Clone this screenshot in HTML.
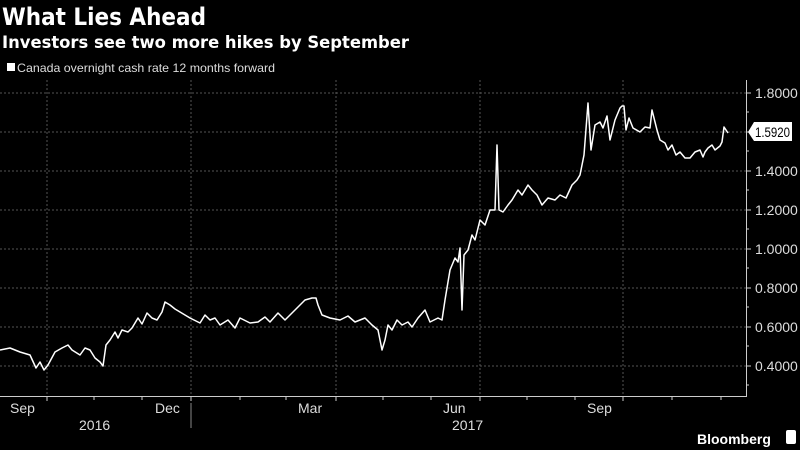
<!DOCTYPE html>
<html><head><meta charset="utf-8"><style>
body{margin:0;background:#000;width:800px;height:450px;overflow:hidden;font-family:"Liberation Sans","DejaVu Sans",sans-serif;color:#fff}
</style></head><body>
<svg width="800" height="450" xmlns="http://www.w3.org/2000/svg" style="position:absolute;left:0;top:0">
<text x="2" y="25" font-size="24" font-weight="bold" fill="#fff" font-family="DejaVu Sans, sans-serif" textLength="204" lengthAdjust="spacingAndGlyphs">What Lies Ahead</text>
<text x="2" y="48" font-size="17" font-weight="bold" fill="#fff" font-family="DejaVu Sans, sans-serif" textLength="407" lengthAdjust="spacingAndGlyphs">Investors see two more hikes by September</text>
<rect x="7" y="63" width="8" height="8" fill="#fff"/>
<text x="17" y="72" font-size="12" fill="#ddd" textLength="258" lengthAdjust="spacingAndGlyphs">Canada overnight cash rate 12 months forward</text>
<g stroke="#555" stroke-width="1" stroke-dasharray="2,2">
<line x1="0" y1="93" x2="746" y2="93"/><line x1="0" y1="132" x2="746" y2="132"/><line x1="0" y1="171" x2="746" y2="171"/><line x1="0" y1="210" x2="746" y2="210"/><line x1="0" y1="249" x2="746" y2="249"/><line x1="0" y1="288" x2="746" y2="288"/><line x1="0" y1="327" x2="746" y2="327"/><line x1="0" y1="366" x2="746" y2="366"/>
<line x1="47" y1="80" x2="47" y2="396"/><line x1="191" y1="80" x2="191" y2="396"/><line x1="336" y1="80" x2="336" y2="396"/><line x1="480" y1="80" x2="480" y2="396"/><line x1="623" y1="80" x2="623" y2="396"/>
</g>
<g stroke="#ccc" stroke-width="1">
<line x1="0" y1="396.5" x2="746" y2="396.5"/><line x1="746.5" y1="80" x2="746.5" y2="397"/>
<line x1="47" y1="396" x2="47" y2="401"/><line x1="94" y1="396" x2="94" y2="400"/><line x1="142" y1="396" x2="142" y2="400"/><line x1="191" y1="396" x2="191" y2="401"/><line x1="240" y1="396" x2="240" y2="400"/><line x1="286" y1="396" x2="286" y2="400"/><line x1="336" y1="396" x2="336" y2="401"/><line x1="383" y1="396" x2="383" y2="400"/><line x1="431" y1="396" x2="431" y2="400"/><line x1="480" y1="396" x2="480" y2="401"/><line x1="527" y1="396" x2="527" y2="400"/><line x1="575" y1="396" x2="575" y2="400"/><line x1="623" y1="396" x2="623" y2="401"/><line x1="672" y1="396" x2="672" y2="400"/><line x1="721" y1="396" x2="721" y2="400"/>
<line x1="746" y1="93" x2="751" y2="93"/><line x1="746" y1="132" x2="751" y2="132"/><line x1="746" y1="171" x2="751" y2="171"/><line x1="746" y1="210" x2="751" y2="210"/><line x1="746" y1="249" x2="751" y2="249"/><line x1="746" y1="288" x2="751" y2="288"/><line x1="746" y1="327" x2="751" y2="327"/><line x1="746" y1="366" x2="751" y2="366"/>
<line x1="746" y1="112" x2="749" y2="112"/><line x1="746" y1="151" x2="749" y2="151"/><line x1="746" y1="190" x2="749" y2="190"/><line x1="746" y1="229" x2="749" y2="229"/><line x1="746" y1="268" x2="749" y2="268"/><line x1="746" y1="307" x2="749" y2="307"/><line x1="746" y1="346" x2="749" y2="346"/><line x1="746" y1="385" x2="749" y2="385"/>
<line x1="191" y1="403" x2="191" y2="428" stroke="#888"/>
</g>
<g font-size="14" fill="#ddd">
<text x="755" y="98">1.8000</text><text x="755" y="176">1.4000</text><text x="755" y="215">1.2000</text><text x="755" y="254">1.0000</text><text x="755" y="293">0.8000</text><text x="755" y="332">0.6000</text><text x="755" y="371">0.4000</text>
<text x="10" y="413">Sep</text><text x="155" y="413">Dec</text><text x="298" y="413">Mar</text><text x="443" y="413">Jun</text><text x="587" y="413">Sep</text>
<text x="79" y="430">2016</text><text x="452" y="430">2017</text>
</g>
<path d="M748,132 L754,122 L792,122 L792,141 L754,141 Z" fill="#fff"/>
<text x="755" y="137" font-size="14" fill="#000" textLength="35" lengthAdjust="spacingAndGlyphs">1.5920</text>
<text x="697" y="444" font-size="14" font-weight="bold" fill="#fff">Bloomberg</text>
<rect x="786" y="430" width="10" height="14" rx="2" fill="#fff"/>
<polyline fill="none" stroke="#fff" stroke-width="1.5" stroke-linejoin="round" points="0,350 10,348 20,352 30,355 36,368 40,362 44,370 48,365 55,352 62,348 68,345 72,350 80,355 85,348 90,350 95,358 100,362 103,366 106,345 110,340 115,332 118,338 122,330 128,332 132,328 138,318 142,324 147,313 152,318 157,320 162,312 165,302 170,305 175,309 180,312 190,318 200,323 205,315 210,320 215,318 220,325 228,320 235,328 240,318 250,323 258,322 265,317 270,322 278,313 285,320 295,310 305,300 312,298 316,298 318,305 322,315 330,318 340,320 348,316 355,322 365,318 372,325 378,330 382,350 385,340 388,325 392,330 397,320 402,325 408,322 412,327 418,318 425,310 430,322 438,318 442,320 445,300 450,270 455,258 458,262 460,248 462,310 464,255 468,250 472,235 475,240 480,220 485,225 490,210 495,210 497,145 499,210 503,212 508,205 512,200 518,190 522,195 528,185 532,190 537,195 542,205 548,198 555,200 560,195 566,198 572,185 577,180 580,175 584,155 588,103 591,150 595,125 600,122 603,128 607,116 610,140 615,120 620,108 622,106 624,106 626,130 629,118 633,128 640,132 645,127 650,128 652,110 657,130 660,140 665,143 668,150 672,145 676,155 680,152 685,158 690,158 695,152 700,150 703,157 705,152 708,148 712,145 715,150 720,146 722,142 724,127 728,133"/>
</svg>
</body></html>
